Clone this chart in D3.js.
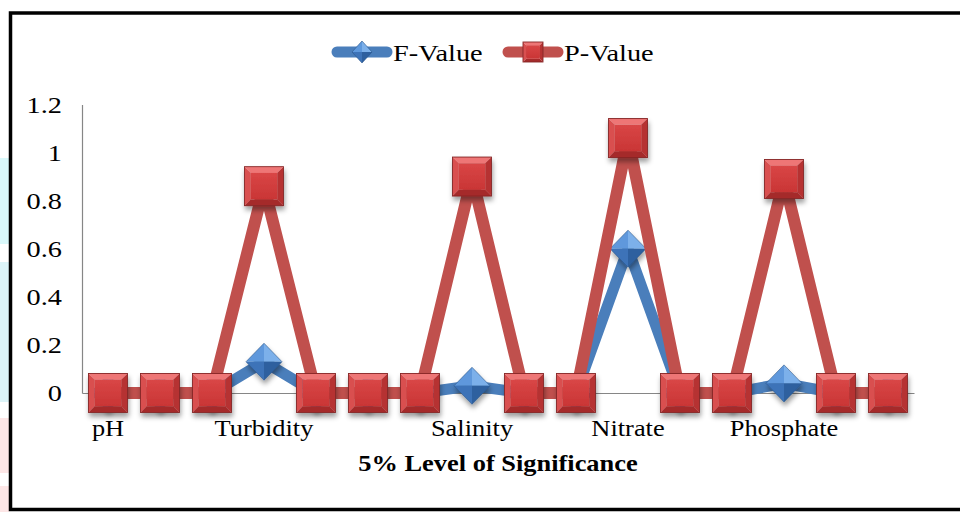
<!DOCTYPE html>
<html>
<head>
<meta charset="utf-8">
<script src="https://cdn.jsdelivr.net/npm/d3@7"></script>
<style>
  html, body { margin: 0; padding: 0; background: #fff; }
  svg { display: block; }
  text { font-family: "Liberation Serif", "Times New Roman", serif; fill: #000; }
</style>
</head>
<body>
<svg id="chart" width="960" height="512"></svg>
<script>
// Parameters tested at the 5% level of significance (16 positions on the axis)
const categories = ["pH", "", "", "Turbidity", "", "", "", "Salinity", "", "", "Nitrate", "", "", "Phosphate", "", ""];
const fValues = [0, 0, 0, 0.13, 0, 0, 0, 0.03, 0, 0, 0.6, 0, 0, 0.04, 0, 0];
const pValues = [0, 0, 0, 0.86, 0, 0, 0, 0.9, 0, 0, 1.06, 0, 0, 0.89, 0, 0];
const yTicks = [0, 0.2, 0.4, 0.6, 0.8, 1, 1.2];
const yTickLabels = ["0", "0.2", "0.4", "0.6", "0.8", "1", "1.2"];
const seriesNames = ["F-Value", "P-Value"];

const svg = d3.select("#chart");

// widen glyphs slightly, as in the original figure's type
function stretch(sel, k) {
  sel.each(function () {
    const len = this.getComputedTextLength();
    if (len > 0) d3.select(this).attr("textLength", len * k).attr("lengthAdjust", "spacingAndGlyphs");
  });
}

// faint page remnants along the left edge
svg.append("rect").attr("x", 0).attr("y", 158).attr("width", 9).attr("height", 86).attr("fill", "#d9f8fa");
svg.append("rect").attr("x", 0).attr("y", 262).attr("width", 9).attr("height", 140).attr("fill", "#dcf4f8");
svg.append("rect").attr("x", 0).attr("y", 418).attr("width", 9).attr("height", 55).attr("fill", "#fde6e6");
svg.append("rect").attr("x", 0).attr("y", 486).attr("width", 9).attr("height", 26).attr("fill", "#fde6e6");

// outer frame
svg.append("rect")
  .attr("x", 10.5).attr("y", 13).attr("width", 1000).attr("height", 496.5)
  .attr("fill", "#fff").attr("stroke", "#000").attr("stroke-width", 3.5);

const defs = svg.append("defs");
const shadow = defs.append("filter").attr("id", "shadow")
  .attr("x", "-30%").attr("y", "-30%").attr("width", "160%").attr("height", "170%");
shadow.append("feDropShadow").attr("dx", 1).attr("dy", 4).attr("stdDeviation", 2.4)
  .attr("flood-color", "#000").attr("flood-opacity", 0.38);

const sqGrad = defs.append("linearGradient").attr("id", "sqFace")
  .attr("x1", 0).attr("y1", 0).attr("x2", 0).attr("y2", 1);
sqGrad.append("stop").attr("offset", "0%").attr("stop-color", "#d94646");
sqGrad.append("stop").attr("offset", "100%").attr("stop-color", "#c93535");

// plot area
const x0 = 82, x1 = 914, yZero = 393, yTop = 104.4;
const x = d3.scaleBand().domain(d3.range(categories.length)).range([x0, x1]);
const y = d3.scaleLinear().domain([0, 1.2]).range([yZero, yTop]);
const cx = i => x(i) + x.bandwidth() / 2;

// y axis
const yAxis = svg.append("g").attr("transform", `translate(${x0},0)`)
  .call(d3.axisLeft(y).tickValues(yTicks).tickSize(0).tickPadding(20)
    .tickFormat((d, i) => yTickLabels[i]));
yAxis.attr("font-family", null);
yAxis.select(".domain").attr("stroke", "#868686").attr("stroke-width", 1.2);
yAxis.selectAll("text").style("font-size", "24px").attr("fill", "#000").call(stretch, 1.18);

// x axis
const xAxis = svg.append("g").attr("transform", `translate(0,${yZero})`)
  .call(d3.axisBottom(x).tickSize(0).tickSizeOuter(0).tickPadding(26)
    .tickFormat(i => categories[i]));
xAxis.attr("font-family", null);
xAxis.select(".domain").attr("stroke", "#868686").attr("stroke-width", 1.2);
xAxis.selectAll("text").style("font-size", "24px").attr("fill", "#000").call(stretch, 1.1);

// axis title
svg.append("text").attr("x", 498).attr("y", 471).attr("text-anchor", "middle")
  .style("font-size", "24px").style("font-weight", "bold").text("5% Level of Significance")
  .call(stretch, 1.1);

const line = d3.line().x((d, i) => cx(i)).y(d => y(d)).curve(d3.curveLinear);

// bevelled square marker
function drawSquare(g, s) {
  const h = s / 2, b = s * 0.16;
  g.append("polygon").attr("points", [[-h, -h], [h, -h], [h - b, -h + b], [-h + b, -h + b]].join(" ")).attr("fill", "#ee7676");
  g.append("polygon").attr("points", [[-h, -h], [-h + b, -h + b], [-h + b, h - b], [-h, h]].join(" ")).attr("fill", "#d95050");
  g.append("polygon").attr("points", [[h, -h], [h, h], [h - b, h - b], [h - b, -h + b]].join(" ")).attr("fill", "#b63333");
  g.append("polygon").attr("points", [[-h, h], [-h + b, h - b], [h - b, h - b], [h, h]].join(" ")).attr("fill", "#a52b2b");
  g.append("rect").attr("x", -h + b).attr("y", -h + b).attr("width", s - 2 * b).attr("height", s - 2 * b).attr("fill", "url(#sqFace)");
  g.append("rect").attr("x", -h).attr("y", -h).attr("width", s).attr("height", s)
    .attr("fill", "none").attr("stroke", "#862626").attr("stroke-width", 0.9);
}

// faceted diamond marker
function drawDiamond(g, w, hgt) {
  const a = w / 2, c = hgt / 2;
  g.append("polygon").attr("points", [[0, 0], [-a, 0], [0, -c]].join(" ")).attr("fill", "#5e98dc");
  g.append("polygon").attr("points", [[0, 0], [0, -c], [a, 0]].join(" ")).attr("fill", "#7cb0ea");
  g.append("polygon").attr("points", [[0, 0], [-a, 0], [0, c]].join(" ")).attr("fill", "#3d73b8");
  g.append("polygon").attr("points", [[0, 0], [a, 0], [0, c]].join(" ")).attr("fill", "#2e609f");
  g.append("polygon").attr("points", [[-a, 0], [0, -c], [a, 0], [0, c]].join(" "))
    .attr("fill", "none").attr("stroke", "#2a5589").attr("stroke-width", 0.6);
}

// F-Value series
svg.append("path").datum(fValues).attr("d", line)
  .attr("fill", "none").attr("stroke", "#4A7EBB").attr("stroke-width", 11)
  .attr("stroke-linejoin", "round");
svg.append("g").selectAll("g").data(fValues).join("g")
  .attr("transform", (d, i) => `translate(${cx(i)},${y(d)})`)
  .attr("filter", "url(#shadow)")
  .each(function () { drawDiamond(d3.select(this), 36, 37); });

// P-Value series
svg.append("path").datum(pValues).attr("d", line)
  .attr("fill", "none").attr("stroke", "#C0504D").attr("stroke-width", 12)
  .attr("stroke-linejoin", "round");
svg.append("g").selectAll("g").data(pValues).join("g")
  .attr("transform", (d, i) => `translate(${cx(i)},${y(d)})`)
  .attr("filter", "url(#shadow)")
  .each(function () { drawSquare(d3.select(this), 39); });

// legend
const legend = svg.append("g");
const legendItems = [
  { name: seriesNames[0], color: "#4A7EBB", x: 337, marker: "diamond" },
  { name: seriesNames[1], color: "#C0504D", x: 508, marker: "square" }
];
legendItems.forEach(item => {
  const g = legend.append("g").attr("transform", `translate(${item.x},52)`);
  g.append("line").attr("x1", 0).attr("x2", 50).attr("y1", 0).attr("y2", 0)
    .attr("stroke", item.color).attr("stroke-width", 11).attr("stroke-linecap", "round");
  const m = g.append("g").attr("transform", "translate(25,0)");
  if (item.marker === "diamond") drawDiamond(m, 20, 22); else drawSquare(m, 20);
  g.append("text").attr("x", 56).attr("y", 8.5).style("font-size", "24px").text(item.name)
    .call(stretch, 1.18);
});
</script>
</body>
</html>
